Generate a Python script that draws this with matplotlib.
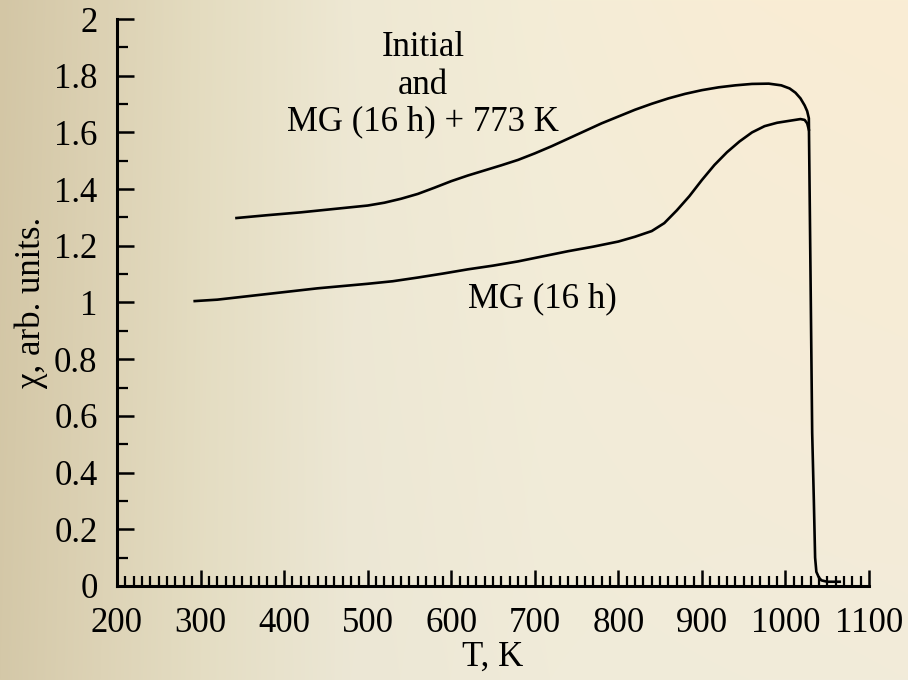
import numpy as np
import matplotlib
matplotlib.use("Agg")
import matplotlib.pyplot as plt
from matplotlib.ticker import MultipleLocator, FormatStrFormatter

plt.rcParams["font.family"] = ["Liberation Serif", "DejaVu Serif"]

# Initial and MG (16 h) + 773 K
temp_annealed = [343, 380, 420, 460, 500, 520, 540, 560, 580, 600, 620, 640, 660, 680,
                 700, 720, 740, 760, 780, 800, 820, 840, 860, 880, 900, 920, 940, 960,
                 980, 995, 1005, 1012, 1018, 1023, 1026, 1028, 1030, 1032, 1034, 1035.5,
                 1037, 1040, 1043, 1050, 1065]
chi_annealed = [1.298, 1.308, 1.318, 1.33, 1.342, 1.352, 1.366, 1.383, 1.405, 1.428,
                1.448, 1.466, 1.484, 1.503, 1.526, 1.551, 1.578, 1.605, 1.632, 1.656,
                1.68, 1.701, 1.72, 1.736, 1.749, 1.759, 1.766, 1.771, 1.772, 1.766,
                1.755, 1.74, 1.72, 1.695, 1.675, 1.65, 1.10, 0.54, 0.30, 0.10, 0.05,
                0.03, 0.02, 0.015, 0.015]

# MG (16 h)
temp_milled = [293, 320, 350, 380, 410, 440, 470, 500, 530, 560, 590, 620, 650, 680, 710,
               740, 770, 800, 820, 840, 855, 870, 885, 900, 915, 930, 945, 960, 975, 990,
               1005, 1018, 1023, 1026, 1028]
chi_milled = [1.005, 1.01, 1.02, 1.03, 1.04, 1.05, 1.058, 1.066, 1.075, 1.088, 1.102,
              1.117, 1.13, 1.145, 1.163, 1.181, 1.197, 1.215, 1.232, 1.252, 1.28, 1.325,
              1.375, 1.432, 1.485, 1.53, 1.568, 1.60, 1.622, 1.634, 1.641, 1.647, 1.644,
              1.632, 1.61]

W, H = 908, 680
fig = plt.figure(figsize=(W / 100, H / 100), dpi=100)

# background shading, darker at the left edge
xs = np.arange(W)
stop_x = [0, 100, 200, 350, 550, 750, 908]
top_cols = np.array([(211, 198, 165), (220, 209, 179), (228, 220, 192), (238, 232, 211),
                     (244, 237, 215), (249, 237, 213), (250, 237, 212)], float)
bot_cols = np.array([(212, 200, 168), (221, 211, 182), (228, 221, 195), (236, 231, 213),
                     (240, 235, 217), (241, 235, 218), (242, 235, 218)], float)
top_row = np.stack([np.interp(xs, stop_x, top_cols[:, c]) for c in range(3)], axis=1)
bot_row = np.stack([np.interp(xs, stop_x, bot_cols[:, c]) for c in range(3)], axis=1)
v = np.linspace(0, 1, H)[:, None, None]
bg = (top_row[None] * (1 - v) + bot_row[None] * v) / 255.0
fig.figimage(bg, xo=0, yo=0, origin="upper", zorder=-1)

ax = fig.add_axes([117 / W, 1 - 586 / H, (869 - 117) / W, (586 - 19) / H])
ax.set_zorder(1)
ax.patch.set_alpha(0)

ax.plot(temp_annealed, chi_annealed, color="black", lw=1.9)
ax.plot(temp_milled, chi_milled, color="black", lw=1.9)

ax.set_xlim(200, 1100)
ax.set_ylim(0, 2)
ax.xaxis.set_major_locator(MultipleLocator(100))
ax.xaxis.set_minor_locator(MultipleLocator(10))
ax.yaxis.set_major_locator(MultipleLocator(0.2))
ax.yaxis.set_minor_locator(MultipleLocator(0.1))
ax.yaxis.set_major_formatter(FormatStrFormatter("%g"))

for s in ["top", "right"]:
    ax.spines[s].set_visible(False)
for s in ["left", "bottom"]:
    ax.spines[s].set_linewidth(2.2)

ax.tick_params(axis="both", which="major", direction="in", width=1.8, labelsize=25)
ax.tick_params(axis="both", which="minor", direction="in", width=1.6)
ax.tick_params(axis="y", which="major", length=12.5, pad=14)
ax.tick_params(axis="y", which="minor", length=8)
ax.tick_params(axis="x", which="major", length=11.5, pad=15)
ax.tick_params(axis="x", which="minor", length=7)

ax.set_xlabel("T, K", fontsize=25, labelpad=1)
ax.set_ylabel("χ, arb. units.", fontsize=25, labelpad=4)

ax.text(423 / W, 1 - 47 / H, "Initial", transform=fig.transFigure, fontsize=25,
        ha="center", va="center")
ax.text(423 / W, 1 - 85 / H, "and", transform=fig.transFigure, fontsize=25,
        ha="center", va="center")
ax.text(423 / W, 1 - 122 / H, "MG (16 h) + 773 K", transform=fig.transFigure, fontsize=25,
        ha="center", va="center")
ax.text(542 / W, 1 - 299 / H, "MG (16 h)", transform=fig.transFigure, fontsize=25,
        ha="center", va="center")

fig.savefig("out.png", dpi=100)
